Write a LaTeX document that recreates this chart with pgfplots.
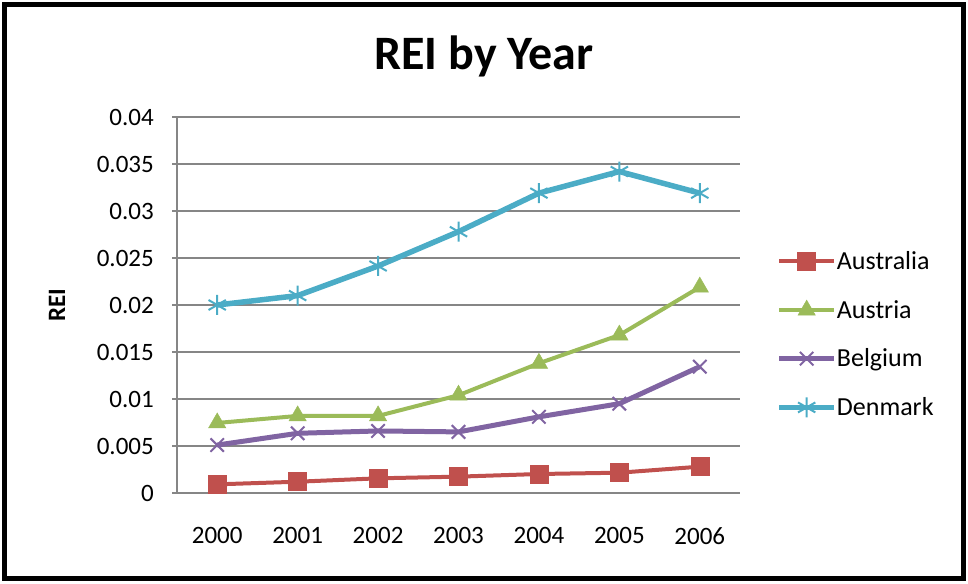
\documentclass[border=0pt]{standalone}
\usepackage{pgfplots}
\pgfplotsset{compat=1.18}
\usepackage{fontspec}
\setmainfont{Carlito}
\definecolor{cAus}{RGB}{192,80,77}
\definecolor{cAut}{RGB}{155,187,89}
\definecolor{cBel}{RGB}{128,100,162}
\definecolor{cDen}{RGB}{75,172,198}
\definecolor{cGrid}{RGB}{134,134,134}
\begin{document}
\begin{tikzpicture}[x=1pt,y=1pt]
\useasboundingbox (0,0) rectangle (968,583);
\draw[line width=5pt] (4.5,4.5) rectangle (963.5,578.5);
\node[font=\fontsize{48}{58}\selectfont\bfseries] at (484,527) {REI by Year};
\begin{axis}[
  at={(177pt,90pt)}, anchor=south west,
  scale only axis, width=563pt, height=376pt,
  xmin=-0.5, xmax=6.5, ymin=0, ymax=0.04,
  axis x line*=bottom, axis y line*=left,
  axis line style={cGrid, line width=1.5pt},
  xtick={0,1,2,3,4,5,6},
  xticklabels={2000,2001,2002,2003,2004,2005,2006},
  ytick={0,0.005,0.01,0.015,0.02,0.025,0.03,0.035,0.04},
  yticklabels={0,0.005,0.01,0.015,0.02,0.025,0.03,0.035,0.04},
  scaled y ticks=false,
  ymajorgrids, grid style={cGrid, line width=1.5pt},
  tick align=outside, major tick length=5pt,
  xtick style={draw=none},
  ytick style={cGrid, line width=1.5pt},
  ticklabel style={font=\fontsize{25}{30}\selectfont},
  yticklabel style={inner sep=0pt, xshift=-18pt},
  xticklabel style={inner sep=0pt, yshift=-29pt},
  ylabel={REI},
  ylabel style={font=\fontsize{25}{30}\selectfont\bfseries, at={(axis description cs:-0.213,0.5)}, anchor=center},
  legend style={at={(1.059,0.4215)}, anchor=west, draw=none, fill=none,
    font=\fontsize{26}{31}\selectfont, row sep=29pt,
    nodes={inner sep=0pt, anchor=west},
    /tikz/every even column/.append style={column sep=2pt}},
  legend cell align=left,
  legend image code/.code={
    \draw[mark repeat=2,mark phase=2,#1] plot coordinates {(0pt,0pt) (27.5pt,0pt) (55pt,0pt)};},
]
\addplot[cAus, line width=4pt, mark=square*, mark size=9pt, mark options={line width=0.5pt, fill=cAus}]
 coordinates {(0,0.00092) (1,0.0012) (2,0.00156) (3,0.00174) (4,0.00202) (5,0.00216) (6,0.0028)};
\addlegendentry{Australia}
\addplot[cAut, line width=4pt, mark=triangle*, mark size=10pt, mark options={line width=0.5pt, fill=cAut}]
 coordinates {(0,0.00745) (1,0.0082) (2,0.0082) (3,0.0104) (4,0.0138) (5,0.0168) (6,0.0219)};
\addlegendentry{Austria}
\addplot[cBel, line width=5pt, mark=x, mark size=9.5pt, mark options={line width=2pt}]
 coordinates {(0,0.0051) (1,0.00635) (2,0.0066) (3,0.0065) (4,0.0081) (5,0.0095) (6,0.01344)};
\addlegendentry{Belgium}
\addplot[cDen, line width=5.5pt, mark=asterisk, mark size=10pt, mark options={line width=2pt}]
 coordinates {(0,0.0200) (1,0.0210) (2,0.02415) (3,0.0278) (4,0.0319) (5,0.0342) (6,0.0319)};
\addlegendentry{Denmark}
\end{axis}
\end{tikzpicture}
\end{document}
